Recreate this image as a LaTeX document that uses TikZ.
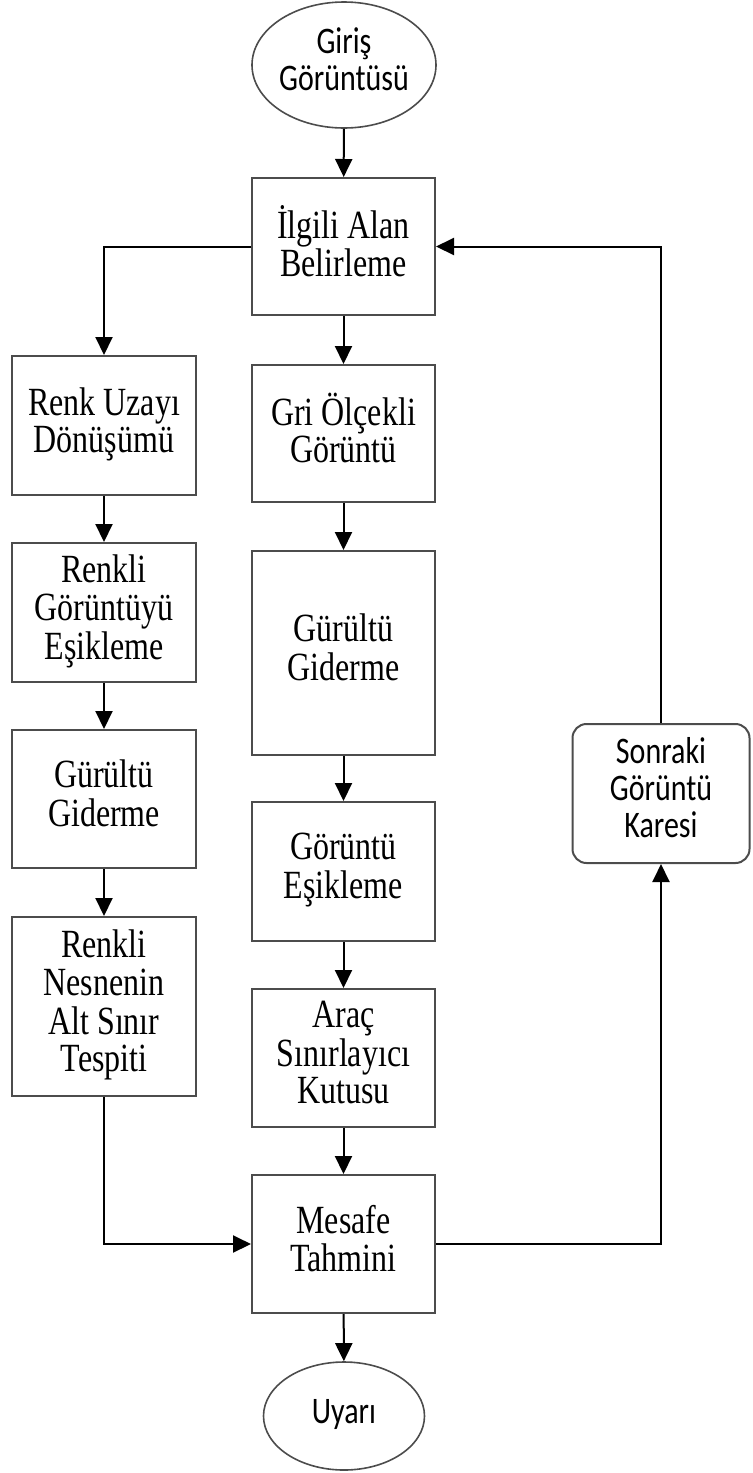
\documentclass[tikz,border=0pt]{standalone}
\usepackage{fontspec}
\usepackage{graphicx}
\setmainfont{Liberation Serif}
\newfontfamily\calfont{Carlito}
\usetikzlibrary{shapes.geometric,arrows.meta}
\newcommand{\vtext}[1]{\scalebox{1}[1.25]{\fontsize{16}{14.8}\selectfont\begin{tabular}{@{}c@{}}#1\end{tabular}}}
\newcommand{\vsans}[1]{\scalebox{1}[1.25]{\calfont\fontsize{15}{14.8}\selectfont\begin{tabular}{@{}c@{}}#1\end{tabular}}}
\begin{document}
\begin{tikzpicture}[x=0.5pt,y=-0.5pt,
  boxst/.style={draw=black!70,line width=1pt,rectangle,minimum width=91.5pt,inner sep=0pt,align=center},
  lbox/.style={boxst,minimum width=92pt},
  ovalst/.style={draw=black!70,line width=0.8pt,ellipse,inner sep=0pt},
  roundst/.style={draw=black!70,line width=1pt,rectangle,rounded corners=7pt,minimum width=88.5pt,minimum height=69.5pt,inner sep=0pt},
  arr/.style={draw=black,line width=1pt,-{Triangle[length=9pt,width=8.5pt]}},
  ln/.style={draw=black,line width=1pt}]
\useasboundingbox (0,0) rectangle (752,1473);
% middle column
\node[ovalst,minimum width=92pt,minimum height=63pt] (e1) at (344,65) {\vsans{Giriş\\Görüntüsü}};
\node[boxst,minimum height=68.5pt] (b1) at (343.5,246.5) {\vtext{İlgili Alan\\Belirleme}};
\node[boxst,minimum height=68.5pt] (b2) at (343.5,433.5) {\vtext{Gri Ölçekli\\Görüntü}};
\node[boxst,minimum height=102pt] (b3) at (343.5,653) {\vtext{Gürültü\\Giderme}};
\node[boxst,minimum height=69.5pt] (b4) at (343.5,871.5) {\vtext{Görüntü\\Eşikleme}};
\node[boxst,minimum height=69pt] (b5) at (343.5,1058) {\vtext{Araç\\Sınırlayıcı\\Kutusu}};
\node[boxst,minimum height=69pt] (b6) at (343.5,1244) {\vtext{Mesafe\\Tahmini}};
\node[ovalst,minimum width=80.5pt,minimum height=54pt] (e2) at (344,1416) {\vsans{Uyarı}};
% left column
\node[lbox,minimum height=69.5pt] (l1) at (104,425.5) {\vtext{Renk Uzayı\\Dönüşümü}};
\node[lbox,minimum height=69.5pt] (l2) at (104,612.5) {\vtext{Renkli\\Görüntüyü\\Eşikleme}};
\node[lbox,minimum height=69pt] (l3) at (104,799) {\vtext{Gürültü\\Giderme}};
\node[lbox,minimum height=89.5pt] (l4) at (104,1006.5) {\vtext{Renkli\\Nesnenin\\Alt Sınır\\Tespiti}};
% right
\node[roundst] (s) at (661,793.5) {\vsans{Sonraki\\Görüntü\\Karesi}};
% connectors
\draw[arr] (e1) -- (b1);
\draw[arr] (b1) -- (b2);
\draw[arr] (b2) -- (b3);
\draw[arr] (b3) -- (b4);
\draw[arr] (b4) -- (b5);
\draw[arr] (b5) -- (b6);
\draw[arr] (b6) -- (e2);
\draw[arr] (b1.west) -| (l1.north);
\draw[arr] (l1) -- (l2);
\draw[arr] (l2) -- (l3);
\draw[arr] (l3) -- (l4);
\draw[arr] (l4.south) |- (b6.west);
\draw[arr] (b6.east) -| (s.south);
\draw[arr] (s.north) |- (b1.east);
\end{tikzpicture}
\end{document}
